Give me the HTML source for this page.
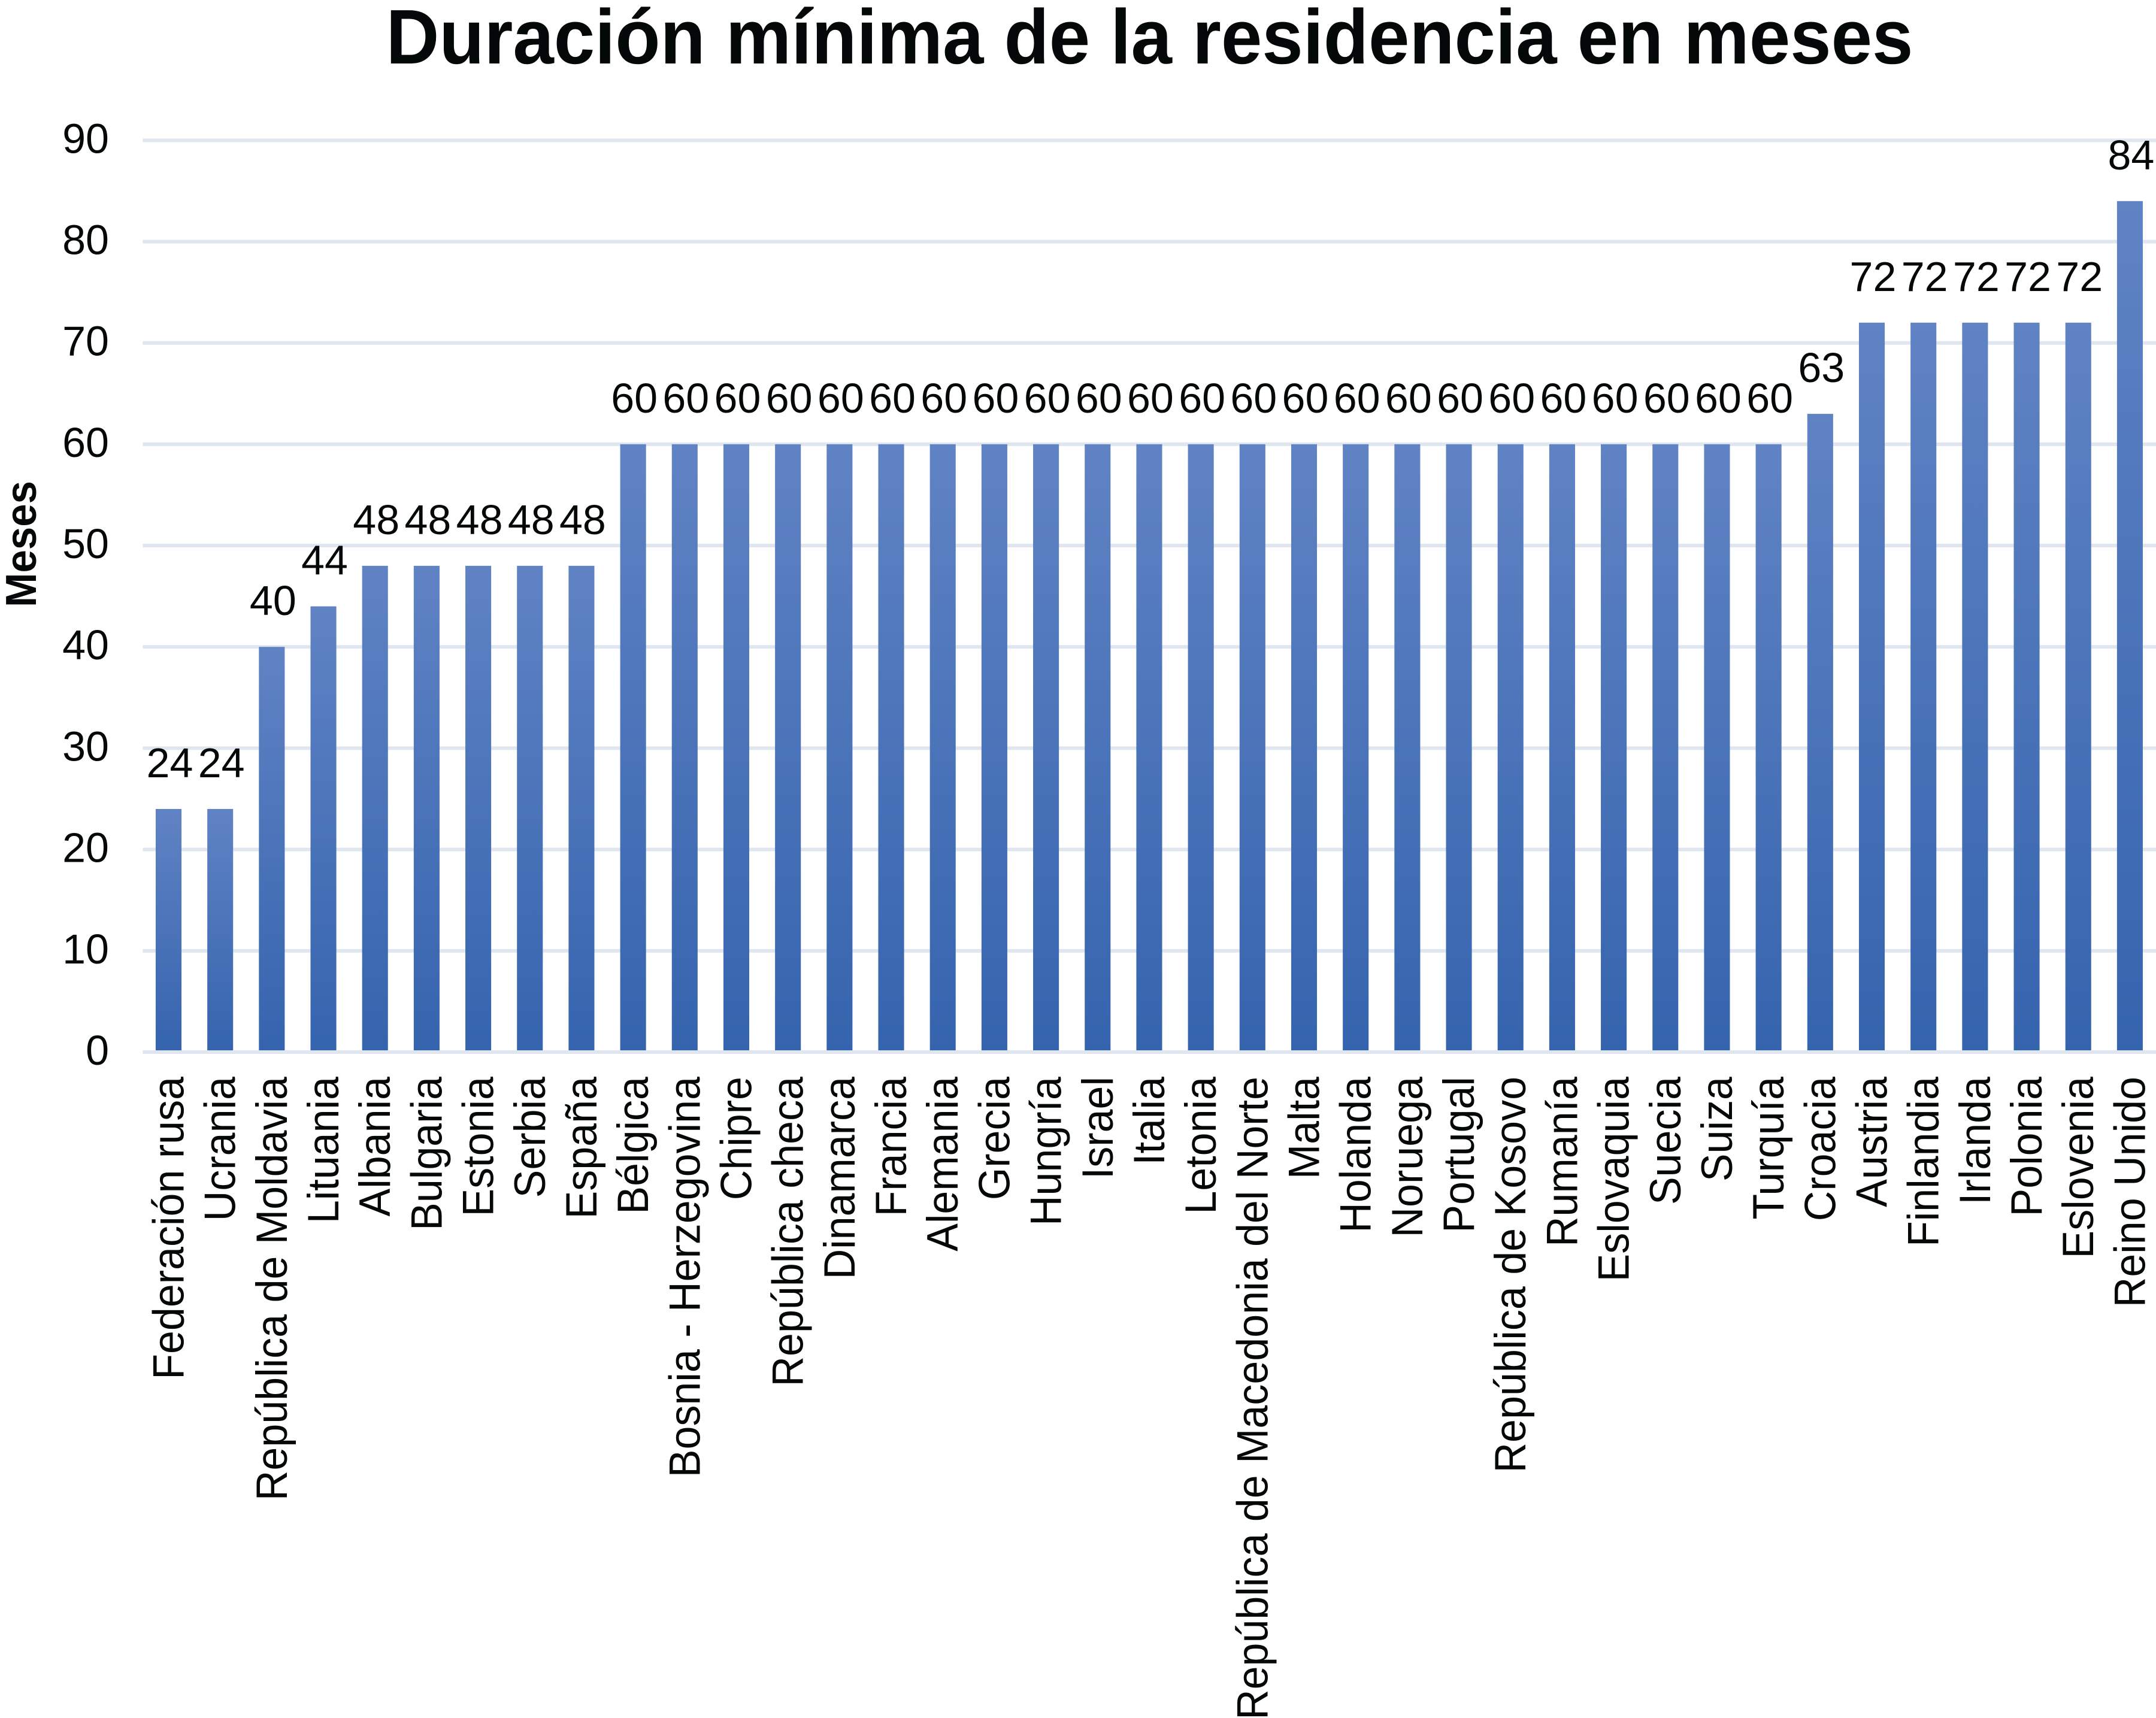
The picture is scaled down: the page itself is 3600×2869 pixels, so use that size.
<!DOCTYPE html>
<html lang="es">
<head>
<meta charset="utf-8">
<title>Duración mínima de la residencia en meses</title>
<style>
  html, body { margin: 0; padding: 0; background: #fff; }
  svg { display: block; }
  text { font-family: "Liberation Sans", Arial, sans-serif; fill: #050808; }
</style>
</head>
<body>
<svg id="chart" xmlns="http://www.w3.org/2000/svg" width="3600" height="2869" viewBox="0 0 3600 2869">
  <defs>
    <linearGradient id="barFill" x1="0" y1="0" x2="0" y2="1">
      <stop offset="0" stop-color="#6083c4"/>
      <stop offset="1" stop-color="#3564ae"/>
    </linearGradient>
  </defs>
  <rect x="0" y="0" width="3600" height="2869" fill="#ffffff"/>
  <text transform="translate(1919.5,106) scale(1,1.05)" x="0" y="0" text-anchor="middle" font-size="123" font-weight="700">Duración mínima de la residencia en meses</text>
  <text transform="translate(60,1014) rotate(-90) scale(1,1.05)" font-size="69" font-weight="700" x="0" y="0">Meses</text>
  <g id="grid"></g>
  <g id="yticks"></g>
  <g id="bars"></g>
  <g id="values"></g>
  <g id="xlabels"></g>
</svg>
<script>
const categories = ["Federación rusa","Ucrania","República de Moldavia","Lituania","Albania","Bulgaria","Estonia","Serbia","España","Bélgica","Bosnia - Herzegovina","Chipre","República checa","Dinamarca","Francia","Alemania","Grecia","Hungría","Israel","Italia","Letonia","República de Macedonia del Norte","Malta","Holanda","Noruega","Portugal","República de Kosovo","Rumanía","Eslovaquia","Suecia","Suiza","Turquía","Croacia","Austria","Finlandia","Irlanda","Polonia","Eslovenia","Reino Unido"];
const months = [24,24,40,44,48,48,48,48,48,60,60,60,60,60,60,60,60,60,60,60,60,60,60,60,60,60,60,60,60,60,60,60,63,72,72,72,72,72,84];
const yTicks = [0,10,20,30,40,50,60,70,80,90];

const NS = "http://www.w3.org/2000/svg";
const plotLeft = 238.4, plotRight = 3599.5, zeroY = 1757, topY = 234.3, yMax = 90;
const fontSize = 70;
const band = (plotRight - plotLeft) / categories.length;
const barWidth = band / 2;
function xScale(i) { return plotLeft + band * (i + 0.5); }
function yScale(v) { return zeroY - (zeroY - topY) * v / yMax; }
function slug(s) {
  return s.toLowerCase().normalize("NFD").replace(/[\u0300-\u036f]/g, "").replace(/[^a-z0-9]+/g, "-").replace(/^-|-$/g, "");
}
function make(tag, parent) {
  const el = document.createElementNS(NS, tag);
  parent.appendChild(el);
  return el;
}

const gridG = document.getElementById("grid");
const tickG = document.getElementById("yticks");
yTicks.forEach(function (t) {
  const line = make("rect", gridG);
  
  
  line.setAttribute("x", plotLeft);
  line.setAttribute("y", yScale(t) - 3);
  line.setAttribute("width", 3600 - plotLeft);
  line.setAttribute("height", 6);
  line.setAttribute("fill", "#dfe6ef");

  const label = make("text", tickG);
  
  
  label.setAttribute("x", 182);
  label.setAttribute("y", yScale(t) + 21);
  label.setAttribute("text-anchor", "end");
  label.setAttribute("font-size", fontSize);
  label.textContent = t;
});

const barsG = document.getElementById("bars");
const valuesG = document.getElementById("values");
const xG = document.getElementById("xlabels");
categories.forEach(function (name, i) {
  const cx = xScale(i);
  const v = months[i];
  const top = yScale(v);

  const bar = make("rect", barsG);
  
  
  bar.setAttribute("x", cx - barWidth / 2);
  bar.setAttribute("y", top);
  bar.setAttribute("width", barWidth);
  bar.setAttribute("height", zeroY - 3 - top);
  bar.setAttribute("fill", "url(#barFill)");

  const val = make("text", valuesG);
  
  
  val.setAttribute("x", cx + 2);
  val.setAttribute("y", top - 53);
  val.setAttribute("text-anchor", "middle");
  val.setAttribute("font-size", fontSize);
  val.textContent = v;

  const lab = make("text", xG);
  
  
  lab.setAttribute("transform", "translate(" + (cx + 25) + ",1798) rotate(-90) scale(1,1.05)");
  lab.setAttribute("text-anchor", "end");
  lab.setAttribute("font-size", fontSize);
  lab.textContent = name;
});
</script>
</body>
</html>
